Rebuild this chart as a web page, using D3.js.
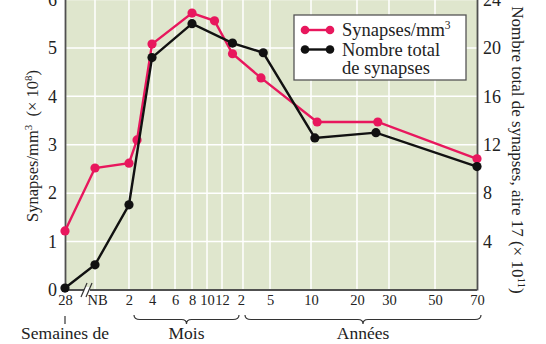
<!DOCTYPE html>
<html><head><meta charset="utf-8">
<script src="https://cdn.jsdelivr.net/npm/d3@7"></script>
<style>
body{margin:0;background:#fff;}
svg{display:block;}
svg text{font-family:"Liberation Serif","DejaVu Serif",serif !important;}
</style></head>
<body><svg id="c" width="546" height="344"></svg>
<script>
// ---- data ----
// age in months after birth (28 weeks of gestation ≈ -3)
const tickAges   = [-3, 0, 2, 4, 6, 8, 10, 12, 24, 60, 120, 240, 360, 600, 840];
const tickLabels = ["28","NB","2","4","6","8","10","12","2","5","10","20","30","50","70"];
const densityAges   = [-3, 0, 2, 2.7, 4, 8, 11, 18, 48, 136, 318, 840];
const densityValues = [1.22, 2.52, 2.62, 3.1, 5.08, 5.72, 5.56, 4.88, 4.38, 3.47, 3.47, 2.71];
const totalAges   = [-3, 0, 2, 4, 8, 18, 51, 130, 311, 840];
const totalValues = [0.16, 2.08, 7.04, 19.2, 22.0, 20.4, 19.6, 12.56, 13.0, 10.2];
const leftTicks  = [0, 1, 2, 3, 4, 5, 6];
const rightTicks = [4, 8, 12, 16, 20, 24];
const seriesNames = ["Synapses/mm", "Nombre total", "de synapses"];

// ---- layout ----
const FONT = "'Liberation Serif', 'DejaVu Serif', serif";
const L = 65, R = 477, B = 290, T = -0.5;
const tickFrac = [0, 0.0728, 0.1553, 0.2112, 0.2670, 0.3083, 0.3447, 0.3811, 0.4320, 0.4976, 0.5971, 0.7087, 0.7864, 0.8981, 1];
const pink = "#e8175d", dark = "#111", axisCol = "#505050", bg = "#dfe6cd", txt = "#222";

const svg = d3.select("#c").attr("font-family", FONT);
const x = d3.scaleLinear().domain(tickAges).range(tickFrac.map(f => L + f * (R - L)));
const yL = d3.scaleLinear().domain([0, 6]).range([B, T]);
const yR = d3.scaleLinear().domain([0, 24]).range([B, T]);

svg.append("rect").attr("x", L).attr("y", -10).attr("width", R - L).attr("height", B + 10).attr("fill", bg);

// grid
svg.append("g").selectAll("line").data(leftTicks.slice(1)).join("line")
  .attr("x1", L).attr("x2", R).attr("y1", d => yL(d)).attr("y2", d => yL(d))
  .attr("stroke", "#fff").attr("stroke-width", 1.5);
svg.append("g").selectAll("line").data(tickAges.slice(0, -1)).join("line")
  .attr("x1", d => x(d)).attr("x2", d => x(d)).attr("y1", -10).attr("y2", B)
  .attr("stroke", "#fff").attr("stroke-width", 1.5);

// axes
const fsTick = 18;
const gl = svg.append("g").attr("transform", `translate(${L},0)`)
  .call(d3.axisLeft(yL).tickValues(leftTicks).tickFormat(d3.format("d")).tickSize(0).tickPadding(8));
const gr = svg.append("g").attr("transform", `translate(${R},0)`)
  .call(d3.axisRight(yR).tickValues(rightTicks).tickFormat(d3.format("d")).tickSize(0).tickPadding(6));
const gb = svg.append("g").attr("transform", `translate(0,${B})`)
  .call(d3.axisBottom(x).tickValues(tickAges).tickFormat((d, i) => tickLabels[i]).tickSize(0).tickPadding(5));
[gl, gr, gb].forEach(g => g.attr("font-family", FONT));
[gl, gr].forEach(g => {
  g.select(".domain").attr("stroke", axisCol).attr("stroke-width", 1.8);
  g.selectAll("text").attr("font-size", fsTick).attr("fill", txt);
});
gb.select(".domain").remove();
gb.selectAll("text").attr("font-size", 14.5).attr("fill", txt);
gb.selectAll(".tick").filter((d, i) => i === 1).select("text").attr("dx", 2);
gb.selectAll(".tick").filter((d, i) => i === 8).select("text").attr("dx", -2);
svg.append("line").attr("x1", L).attr("x2", R).attr("y1", B).attr("y2", B).attr("stroke", axisCol).attr("stroke-width", 1.8);

// axis break
svg.append("rect").attr("x", 84).attr("y", B - 3).attr("width", 6).attr("height", 6).attr("fill", "#fff");
[0, 5].forEach(o => svg.append("line").attr("x1", 81 + o).attr("y1", B + 7).attr("x2", 87 + o).attr("y2", B - 7)
  .attr("stroke", "#333").attr("stroke-width", 1.2));

// series
function series(ages, vals, yS, col) {
  const pts = ages.map((a, i) => [x(a), yS(vals[i])]);
  svg.append("path").attr("d", d3.line()(pts)).attr("fill", "none").attr("stroke", col).attr("stroke-width", 2.4);
  svg.append("g").selectAll("circle").data(pts).join("circle")
    .attr("cx", d => d[0]).attr("cy", d => d[1]).attr("r", 4.6).attr("fill", col);
}
series(densityAges, densityValues, yL, pink);
series(totalAges, totalValues, yR, dark);

// legend
const lg = svg.append("g");
lg.append("rect").attr("x", 294).attr("y", 15).attr("width", 172).attr("height", 65)
  .attr("fill", "#fff").attr("stroke", "#555").attr("stroke-width", 1.3);
[[30, pink], [49.5, dark]].forEach(([yy, c]) => {
  lg.append("line").attr("x1", 305).attr("x2", 330).attr("y1", yy).attr("y2", yy).attr("stroke", c).attr("stroke-width", 2.4);
  lg.append("circle").attr("cx", 305).attr("cy", yy).attr("r", 4.3).attr("fill", c);
  lg.append("circle").attr("cx", 330).attr("cy", yy).attr("r", 4.3).attr("fill", c);
});
const t1 = lg.append("text").attr("x", 342).attr("y", 36).attr("font-size", 18.5).attr("fill", txt).text(seriesNames[0]);
t1.append("tspan").attr("dy", -7).attr("font-size", 11.5).text("3");
lg.append("text").attr("x", 342).attr("y", 55.5).attr("font-size", 18.5).attr("fill", txt).text(seriesNames[1]);
lg.append("text").attr("x", 342).attr("y", 74).attr("font-size", 18.5).attr("fill", txt).text(seriesNames[2]);

// axis titles
const yt = svg.append("text").attr("transform", "translate(38,146) rotate(-90)").attr("text-anchor", "middle")
  .attr("font-size", 16.5).attr("fill", txt);
yt.append("tspan").text("Synapses/mm");
yt.append("tspan").attr("dy", -6).attr("font-size", 11).text("3");
yt.append("tspan").attr("dy", 6).text("\u00a0 (× 10");
yt.append("tspan").attr("dy", -6).attr("font-size", 11).text("8");
yt.append("tspan").attr("dy", 6).text(")");

const rt = svg.append("text").attr("transform", "translate(512,150) rotate(90)").attr("text-anchor", "middle")
  .attr("font-size", 17).attr("fill", txt);
rt.append("tspan").text("Nombre total de synapses, aire 17 (× 10");
rt.append("tspan").attr("dy", -6).attr("font-size", 11).text("11");
rt.append("tspan").attr("dy", 6).text(")");

// bottom annotations
function brace(x1, x2, y, h) {
  const m = (x1 + x2) / 2;
  return `M${x1},${y} Q${x1},${y + h / 2} ${x1 + 6},${y + h / 2} L${m - 5},${y + h / 2} Q${m},${y + h / 2} ${m},${y + h} ` +
         `Q${m},${y + h / 2} ${m + 5},${y + h / 2} L${x2 - 6},${y + h / 2} Q${x2},${y + h / 2} ${x2},${y}`;
}
svg.append("line").attr("x1", x(-3)).attr("x2", x(-3)).attr("y1", 316).attr("y2", 324).attr("stroke", "#333").attr("stroke-width", 1.2);
svg.append("path").attr("d", brace(134, 239, 315, 9)).attr("fill", "none").attr("stroke", "#333").attr("stroke-width", 1.2);
svg.append("path").attr("d", brace(245, 481, 315, 9)).attr("fill", "none").attr("stroke", "#333").attr("stroke-width", 1.2);
svg.append("text").attr("x", x(-3)).attr("y", 339).attr("text-anchor", "middle").attr("font-size", 17.5).attr("fill", txt).text("Semaines de");
svg.append("text").attr("x", 186.5).attr("y", 339).attr("text-anchor", "middle").attr("font-size", 17.5).attr("fill", txt).text("Mois");
svg.append("text").attr("x", 363).attr("y", 339).attr("text-anchor", "middle").attr("font-size", 17.5).attr("fill", txt).text("Années");
</script></body></html>
